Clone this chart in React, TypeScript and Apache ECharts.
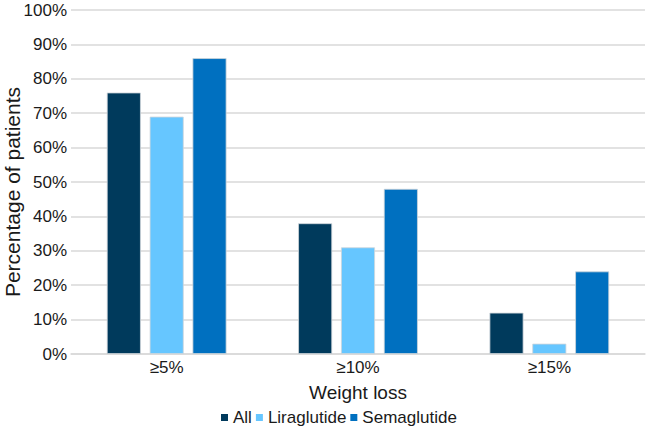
import React, { useEffect, useRef } from "react";
import * as echarts from "echarts";

const categories = ["≥5%", "≥10%", "≥15%"];
const seriesNames = ["All", "Liraglutide", "Semaglutide"];
const allValues = [76, 38, 12];
const liraglutideValues = [69, 31, 3];
const semaglutideValues = [86, 48, 24];
const colors = ["#003A5C", "#66C6FF", "#0070C0"];

export default function App() {
  const ref = useRef<HTMLDivElement>(null);
  useEffect(() => {
    if (!ref.current) return;
    const chart = echarts.init(ref.current, null, { renderer: "svg" });
    const font = "'Liberation Sans', Arial, sans-serif";
    const data = [allValues, liraglutideValues, semaglutideValues];
    chart.setOption({
      animation: false,
      textStyle: { fontFamily: font },
      grid: { left: 71, right: 1, top: 10, bottom: 74, containLabel: false },
      legend: {
        left: 216,
        top: 404,
        itemWidth: 7,
        itemHeight: 7,
        itemGap: 4,
        icon: "rect",
        itemStyle: { borderWidth: 0 },
        textStyle: { fontSize: 17, color: "#1a1a1a", fontFamily: font },
        data: seriesNames,
      },
      graphic: [
        {
          type: "text",
          x: 12,
          y: 192,
          rotation: Math.PI / 2,
          style: {
            text: "Percentage of patients",
            fontSize: 21,
            fontFamily: font,
            fill: "#1a1a1a",
            textAlign: "center",
            textVerticalAlign: "middle",
          },
        },
      ],
      xAxis: {
        type: "category",
        data: categories,
        name: "Weight loss",
        nameLocation: "middle",
        nameGap: 29,
        nameTextStyle: { fontSize: 19, color: "#1a1a1a", fontFamily: font },
        axisLine: { show: true, lineStyle: { color: "#d9d9d9", width: 1.5 } },
        axisTick: { show: false },
        axisLabel: { fontSize: 17, color: "#1a1a1a", margin: 5, fontFamily: font },
      },
      yAxis: {
        type: "value",
        min: 0,
        max: 100,
        interval: 10,
        axisLine: { show: false },
        axisTick: { show: false },
        splitLine: { lineStyle: { color: "#d9d9d9", width: 1.5 } },
        axisLabel: {
          fontSize: 17,
          color: "#1a1a1a",
          margin: 4,
          fontFamily: font,
          formatter: (v: number) => v + "%",
        },
      },
      series: seriesNames.map((name, i) => ({
        name,
        type: "bar",
        data: data[i],
        barWidth: 34,
        barGap: "26%",
        itemStyle: { color: colors[i], borderColor: "#cfd6db", borderWidth: 0.8 },
      })),
    });
    return () => chart.dispose();
  }, []);
  return (
    <div
      ref={ref}
      style={{ position: "absolute", left: 0, top: 0, width: 646, height: 428 }}
    />
  );
}
